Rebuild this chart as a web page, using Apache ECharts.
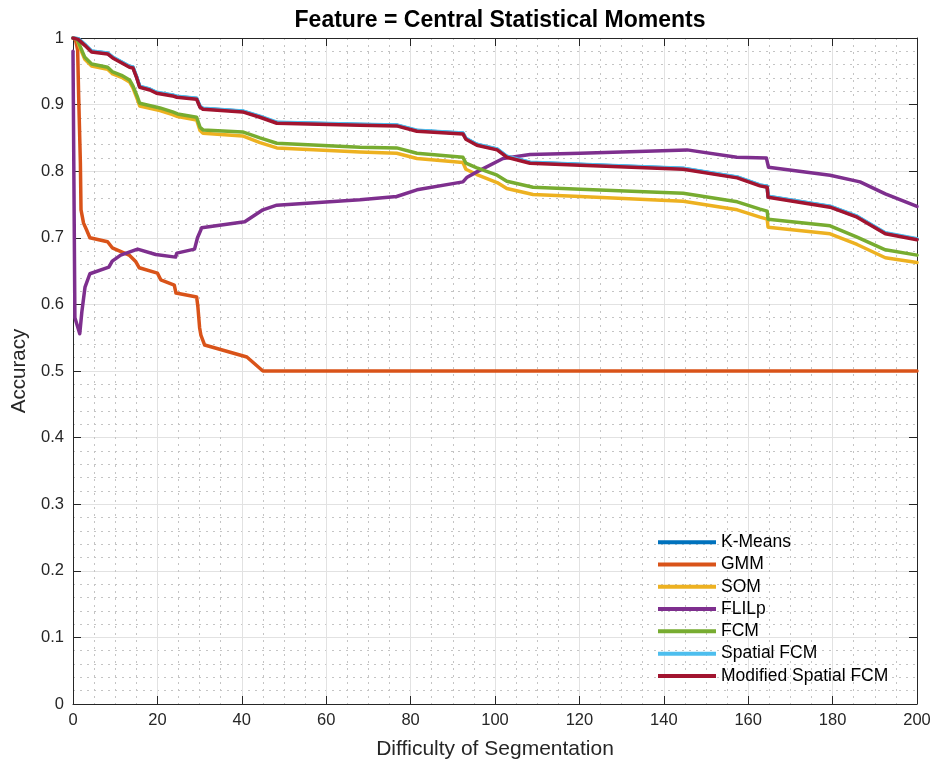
<!DOCTYPE html>
<html>
<head>
<meta charset="utf-8">
<script src="https://cdn.jsdelivr.net/npm/echarts@6/dist/echarts.min.js"></script>
<style>
  html, body { margin: 0; padding: 0; background: #ffffff; }
  #chart { width: 937px; height: 769px; }
</style>
</head>
<body>
<div id="chart"></div>
<script>
// Accuracy vs. difficulty of segmentation, one [difficulty, accuracy] list per method
const seriesNames = ['K-Means', 'GMM', 'SOM', 'FLILp', 'FCM', 'Spatial FCM', 'Modified Spatial FCM'];
const seriesColors = ['#0072BD', '#D95319', '#EDB120', '#7E2F8E', '#77AC30', '#4DBEEE', '#A2142F'];

const kMeans = [[0,1.0],[1.2,0.999],[2.8,0.990],[4.4,0.980],[8.2,0.977],[9.4,0.971],[13.4,0.957],[14.2,0.956],[15.1,0.941],[15.8,0.927],[18.2,0.923],[19.8,0.918],[23.6,0.914],[24.6,0.912],[29.3,0.909],[30.1,0.897],[30.8,0.894],[40.2,0.890],[44.3,0.882],[48.3,0.873],[68,0.870],[76.7,0.869],[81.5,0.861],[92.4,0.857],[93.1,0.849],[95.7,0.840],[100.5,0.833],[102.8,0.822],[108.3,0.813],[120.2,0.810],[144.6,0.804],[157.4,0.791],[162.8,0.779],[164.5,0.777],[164.7,0.762],[179.4,0.747],[185.8,0.732],[192.5,0.707],[200,0.698]];

const gmm = [[0,1.0],[0.6,0.997],[1.1,0.982],[1.35,0.911],[1.75,0.812],[1.9,0.742],[2.5,0.722],[3.2,0.712],[4.0,0.700],[8.2,0.694],[9.3,0.685],[13.3,0.674],[14.9,0.664],[15.7,0.655],[20,0.647],[20.8,0.637],[24,0.629],[24.4,0.617],[29.3,0.611],[29.6,0.596],[30.0,0.565],[30.3,0.554],[31.2,0.539],[41.2,0.521],[45,0.5],[200,0.5]];

const som = [[0,1.0],[1.0,0.997],[1.6,0.986],[2.8,0.968],[4.4,0.958],[8.2,0.953],[9.4,0.946],[11.5,0.941],[13.4,0.934],[14.2,0.925],[15.3,0.907],[15.8,0.898],[20.6,0.891],[23.6,0.885],[24.8,0.882],[29.3,0.877],[30.1,0.861],[30.8,0.857],[40.2,0.853],[44.3,0.843],[48.3,0.835],[68,0.829],[76.7,0.827],[81.5,0.819],[92.4,0.813],[93.1,0.803],[95.7,0.795],[100.5,0.783],[102.8,0.774],[109,0.765],[120.2,0.762],[144.6,0.755],[157.4,0.742],[162.8,0.731],[164.5,0.728],[164.7,0.716],[179.4,0.706],[185.8,0.690],[192.5,0.670],[200,0.663]];

const flilp = [[0,0.98],[0.45,0.58],[1.6,0.556],[2.1,0.589],[2.85,0.626],[4.0,0.646],[8.5,0.656],[9.3,0.665],[11.3,0.674],[15.3,0.683],[19.6,0.675],[24.3,0.671],[24.6,0.677],[28.8,0.683],[29.5,0.700],[30.5,0.715],[40.7,0.724],[45,0.742],[48.3,0.749],[68,0.757],[76.7,0.762],[81.5,0.772],[92.4,0.784],[93.4,0.791],[95.7,0.799],[101.9,0.819],[108.3,0.825],[120.2,0.827],[145.5,0.832],[157.3,0.821],[164.3,0.820],[164.8,0.806],[179.4,0.794],[186.5,0.784],[192.5,0.766],[200,0.747]];

const fcm = [[0,1.0],[1.0,0.998],[1.6,0.989],[2.8,0.971],[4.4,0.961],[8.2,0.956],[9.4,0.949],[11.5,0.944],[13.4,0.937],[14.2,0.928],[15.3,0.911],[15.8,0.902],[20.6,0.895],[23.6,0.889],[24.8,0.886],[29.3,0.881],[30.1,0.866],[30.8,0.862],[40.2,0.859],[44.3,0.850],[48.3,0.842],[68,0.836],[76.7,0.835],[81.5,0.827],[92.4,0.821],[93.1,0.812],[95.7,0.805],[100.5,0.794],[102.8,0.785],[109,0.776],[120.2,0.773],[144.6,0.767],[157.4,0.754],[162.8,0.743],[164.5,0.740],[164.7,0.728],[179.4,0.718],[185.8,0.701],[192.5,0.682],[200,0.674]];

const spatialFcm = [[0,1.0],[1.2,0.999],[2.8,0.9905],[4.4,0.9805],[8.2,0.9775],[9.4,0.9715],[13.4,0.9575],[14.2,0.9565],[15.1,0.9415],[15.8,0.9275],[18.2,0.9235],[19.8,0.9185],[23.6,0.9145],[24.6,0.9125],[29.3,0.9095],[30.1,0.8975],[30.8,0.8945],[40.2,0.8905],[44.3,0.8825],[48.3,0.8735],[68,0.8705],[76.7,0.8695],[81.5,0.8615],[92.4,0.8575],[93.1,0.8495],[95.7,0.8405],[100.5,0.8335],[102.8,0.8225],[108.3,0.8135],[120.2,0.8105],[144.6,0.8045],[157.4,0.7915],[162.8,0.7795],[164.5,0.7775],[164.7,0.7625],[179.4,0.7475],[185.8,0.7325],[192.5,0.7075],[200,0.6985]];

const modSpatialFcm = [[0,1.0],[1.2,0.998],[2.8,0.989],[4.4,0.979],[8.2,0.976],[9.4,0.970],[13.4,0.956],[14.2,0.955],[15.1,0.940],[15.8,0.926],[18.2,0.922],[19.8,0.917],[23.6,0.913],[24.6,0.911],[29.3,0.908],[30.1,0.896],[30.8,0.893],[40.2,0.889],[44.3,0.881],[48.3,0.872],[68,0.869],[76.7,0.868],[81.5,0.860],[92.4,0.856],[93.1,0.848],[95.7,0.839],[100.5,0.832],[102.8,0.821],[108.3,0.812],[120.2,0.809],[144.6,0.803],[157.4,0.790],[162.8,0.778],[164.5,0.776],[164.7,0.761],[179.4,0.746],[185.8,0.731],[192.5,0.706],[200,0.697]];

const seriesData = [kMeans, gmm, som, flilp, fcm, spatialFcm, modSpatialFcm];

const FONT = '"Liberation Sans", Arial, Helvetica, sans-serif';
const INK = '#262626';

const chart = echarts.init(document.getElementById('chart'), null, { renderer: 'canvas' });

const minorLine = { show: true, lineStyle: { color: '#c4c4c4', width: 1, type: [2, 5] } };
const majorLine = { show: true, lineStyle: { color: '#e2e2e2', width: 1 } };

function xAxisDef(position, primary) {
  return {
    type: 'value', position: position, min: 0, max: 200, interval: 20,
    name: primary ? 'Difficulty of Segmentation' : '',
    nameLocation: 'middle', nameGap: 35,
    nameTextStyle: { fontFamily: FONT, fontSize: 21, color: INK },
    axisLine: { show: true, onZero: false, lineStyle: { color: INK, width: 1 } },
    axisTick: { show: true, inside: true, length: 8, lineStyle: { color: INK } },
    axisLabel: { show: primary, margin: 8, fontFamily: FONT, fontSize: 16.5, color: INK },
    splitLine: primary ? majorLine : { show: false },
    minorTick: { show: false, splitNumber: 4 },
    minorSplitLine: primary ? minorLine : { show: false }
  };
}

function yAxisDef(position, primary) {
  return {
    type: 'value', position: position, min: 0, max: 1, interval: 0.1,
    name: primary ? 'Accuracy' : '',
    nameLocation: 'middle', nameGap: 40, nameRotate: 90,
    nameTextStyle: { fontFamily: FONT, fontSize: 20.5, color: INK },
    axisLine: { show: true, onZero: false, lineStyle: { color: INK, width: 1 } },
    axisTick: { show: true, inside: true, length: 8, lineStyle: { color: INK } },
    axisLabel: {
      show: primary, margin: 9, fontFamily: FONT, fontSize: 16.5, color: INK,
      formatter: v => (Math.round(v * 10) / 10).toString()
    },
    splitLine: primary ? majorLine : { show: false },
    minorTick: { show: false, splitNumber: 5 },
    minorSplitLine: primary ? minorLine : { show: false }
  };
}

const option = {
  backgroundColor: '#ffffff',
  animation: false,
  title: {
    text: 'Feature = Central Statistical Moments',
    left: 495, top: 4, textAlign: 'center',
    textStyle: { fontFamily: FONT, fontSize: 23, fontWeight: 'bold', color: '#000000' }
  },
  grid: { left: 73, right: 20, top: 38, bottom: 65, containLabel: false },
  xAxis: [xAxisDef('bottom', true), xAxisDef('top', false)],
  yAxis: [yAxisDef('left', true), yAxisDef('right', false)],
  legend: {
    orient: 'vertical', left: 658, top: 531, padding: 0,
    icon: 'rect', itemWidth: 58, itemHeight: 4, itemGap: 0,
    textStyle: { fontFamily: FONT, fontSize: 17.5, color: '#000000', lineHeight: 22.3 },
    data: seriesNames
  },
  series: seriesNames.map((name, i) => ({
    name: name,
    type: 'line',
    data: seriesData[i],
    xAxisIndex: 0, yAxisIndex: 0,
    showSymbol: false,
    symbol: 'none',
    color: seriesColors[i],
    lineStyle: { color: seriesColors[i], width: 3.5, join: 'round', cap: 'round' },
    z: 2 + i
  }))
};

chart.setOption(option);
</script>
</body>
</html>
